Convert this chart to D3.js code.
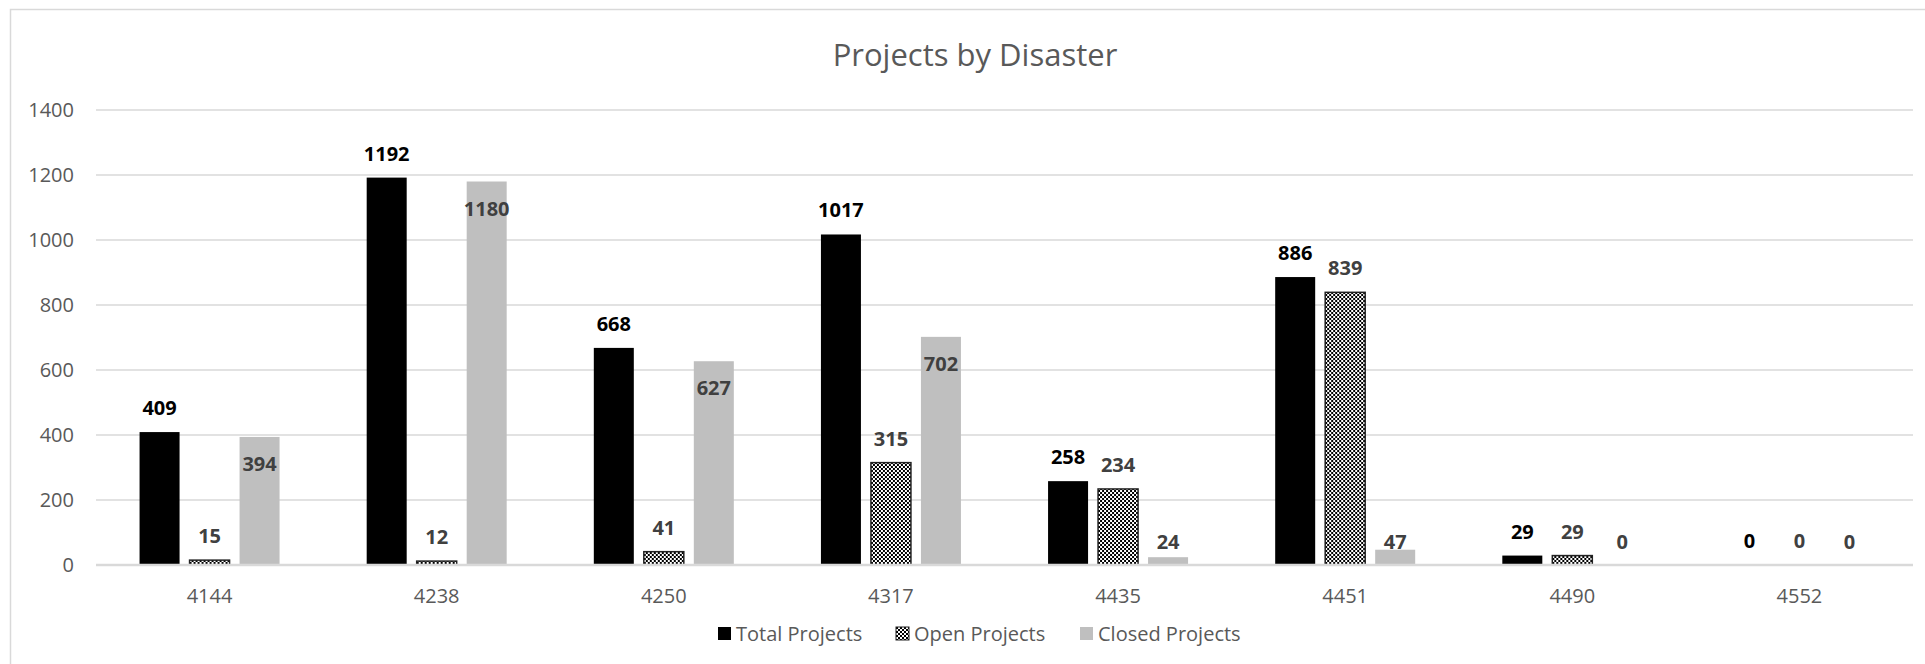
<!DOCTYPE html>
<html lang="en">
<head>
    <meta charset="UTF-8">
    <title>Projects by Disaster</title>
    <script src="https://d3js.org/d3.v7.min.js"></script>
    <style>
        body { margin: 0; background: #fff; }
        svg { display: block; font-family: "Open Sans", "Noto Sans", sans-serif; }
    </style>
</head>
<body>
    <div id="chart"></div>

    <script>
        const disasters = ["4144", "4238", "4250", "4317", "4435", "4451", "4490", "4552"];
        const totalProjects = [409, 1192, 668, 1017, 258, 886, 29, 0];
        const openProjects = [15, 12, 41, 315, 234, 839, 29, 0];
        const closedProjects = [394, 1180, 627, 702, 24, 47, 0, 0];
        const seriesNames = ["Total Projects", "Open Projects", "Closed Projects"];
        const yTicks = [0, 200, 400, 600, 800, 1000, 1200, 1400];

        const W = 1925, H = 664;
        const plot = { left: 96, right: 1913, top: 110, bottom: 565 };

        const svg = d3.select("#chart")
            .append("svg")
            .attr("width", W)
            .attr("height", H);

        // pattern for open projects
        const defs = svg.append("defs");
        const pat = defs.append("pattern")
            .attr("id", "checker")
            .attr("patternUnits", "userSpaceOnUse")
            .attr("width", 4)
            .attr("height", 4);
        pat.append("rect").attr("width", 4).attr("height", 4).attr("fill", "#fff");
        pat.append("rect").attr("width", 2).attr("height", 2).attr("fill", "#000");
        pat.append("rect").attr("x", 2).attr("y", 2).attr("width", 2).attr("height", 2).attr("fill", "#000");

        // chart frame
        svg.append("rect")
            .attr("x", 10.5)
            .attr("y", 9.5)
            .attr("width", 1940)
            .attr("height", 700)
            .attr("fill", "none")
            .attr("stroke", "#d9d9d9")
            .attr("stroke-width", 1.5);

        const x = d3.scaleBand()
            .domain(disasters)
            .range([plot.left, plot.right]);

        const x1 = d3.scaleBand()
            .domain(seriesNames)
            .range([0, 140])
            .paddingInner(0.2);

        const y = d3.scaleLinear()
            .domain([0, 1400])
            .range([plot.bottom, plot.top]);

        // gridlines
        svg.append("g")
            .selectAll("line")
            .data(yTicks.filter(d => d > 0))
            .enter()
            .append("line")
            .attr("x1", plot.left)
            .attr("x2", plot.right)
            .attr("y1", d => y(d))
            .attr("y2", d => y(d))
            .attr("stroke", "#d9d9d9")
            .attr("stroke-width", 1.5);

        // y labels
        svg.append("g")
            .selectAll("text")
            .data(yTicks)
            .enter()
            .append("text")
            .attr("x", 74)
            .attr("y", d => y(d))
            .attr("dy", "0.35em")
            .attr("text-anchor", "end")
            .attr("fill", "#595959")
            .style("font-size", "20px")
            .text(d => d);

        const rows = disasters.map((d, i) => ({
            cat: d,
            values: [
                { key: seriesNames[0], v: totalProjects[i] },
                { key: seriesNames[1], v: openProjects[i] },
                { key: seriesNames[2], v: closedProjects[i] }
            ]
        }));

        const fills = {
            "Total Projects": "#000",
            "Open Projects": "url(#checker)",
            "Closed Projects": "#bfbfbf"
        };
        const labelColors = {
            "Total Projects": "#000",
            "Open Projects": "#404040",
            "Closed Projects": "#404040"
        };

        const groups = svg.append("g")
            .selectAll("g")
            .data(rows)
            .enter()
            .append("g")
            .attr("transform", d => `translate(${x(d.cat) + (x.bandwidth() - 140) / 2},0)`);

        groups.selectAll("rect")
            .data(d => d.values)
            .enter()
            .append("rect")
            .attr("x", d => x1(d.key))
            .attr("y", d => y(d.v))
            .attr("width", x1.bandwidth())
            .attr("height", d => y(0) - y(d.v))
            .attr("fill", d => fills[d.key])
            .attr("stroke", d => d.key === "Open Projects" && d.v > 0 ? "#222" : "none")
            .attr("stroke-width", 1.5);

        groups.selectAll("text")
            .data(d => d.values)
            .enter()
            .append("text")
            .attr("x", d => x1(d.key) + x1.bandwidth() / 2)
            .attr("y", d => d.key === "Closed Projects"
                ? Math.min(y(d.v) + 27, y(0) - 23)
                : y(d.v) - 24)
            .attr("dy", "0.35em")
            .attr("text-anchor", "middle")
            .attr("fill", d => labelColors[d.key])
            .style("font-size", "20px")
            .style("font-weight", "bold")
            .text(d => d.v);

        // x axis line
        svg.append("line")
            .attr("x1", plot.left)
            .attr("x2", plot.right)
            .attr("y1", y(0))
            .attr("y2", y(0))
            .attr("stroke", "#d9d9d9")
            .attr("stroke-width", 2.5);

        svg.append("g")
            .selectAll("text")
            .data(disasters)
            .enter()
            .append("text")
            .attr("x", d => x(d) + x.bandwidth() / 2)
            .attr("y", 603)
            .attr("text-anchor", "middle")
            .attr("fill", "#595959")
            .style("font-size", "20px")
            .text(d => d);

        // title
        svg.append("text")
            .attr("x", 975)
            .attr("y", 66)
            .attr("text-anchor", "middle")
            .attr("fill", "#595959")
            .style("font-size", "31px")
            .text("Projects by Disaster");

        // legend
        const legendX = [718, 896, 1080];
        const legend = svg.append("g")
            .selectAll("g")
            .data(seriesNames)
            .enter()
            .append("g")
            .attr("transform", (d, i) => `translate(${legendX[i]},627)`);

        legend.append("rect")
            .attr("width", 13)
            .attr("height", 13)
            .attr("fill", d => fills[d])
            .attr("stroke", d => d === "Open Projects" ? "#222" : "none");

        legend.append("text")
            .attr("x", 18)
            .attr("y", 7)
            .attr("dy", "0.35em")
            .attr("fill", "#595959")
            .style("font-size", "20px")
            .text(d => d);
    </script>
</body>
</html>
